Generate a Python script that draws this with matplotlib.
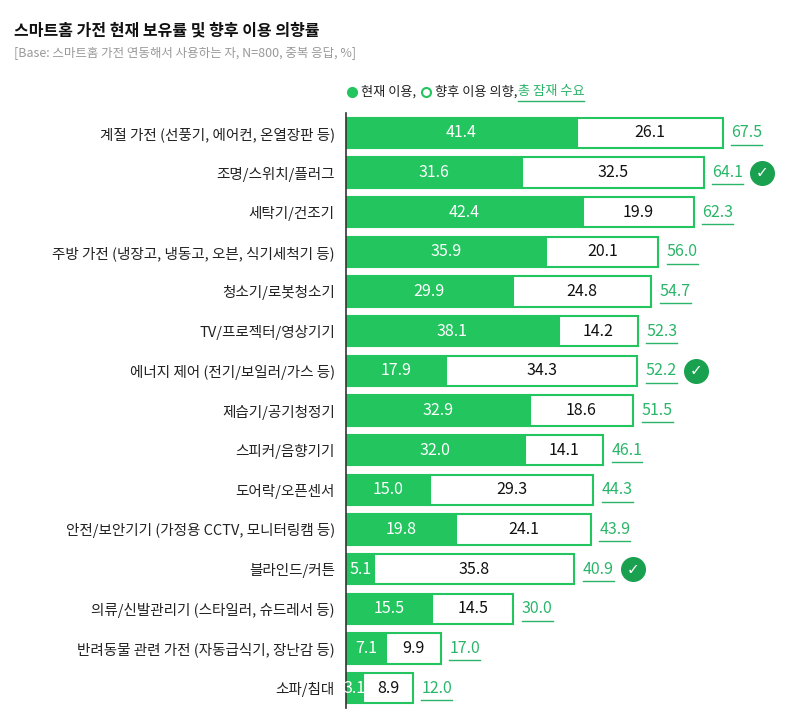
import matplotlib.pyplot as plt
from matplotlib.lines import Line2D

plt.rcParams['font.family'] = 'Noto Sans CJK KR'

categories = ['계절 가전 (선풍기, 에어컨, 온열장판 등)', '조명/스위치/플러그', '세탁기/건조기',
              '주방 가전 (냉장고, 냉동고, 오븐, 식기세척기 등)', '청소기/로봇청소기', 'TV/프로젝터/영상기기',
              '에너지 제어 (전기/보일러/가스 등)', '제습기/공기청정기', '스피커/음향기기', '도어락/오픈센서',
              '안전/보안기기 (가정용 CCTV, 모니터링캠 등)', '블라인드/커튼', '의류/신발관리기 (스타일러, 슈드레서 등)',
              '반려동물 관련 가전 (자동급식기, 장난감 등)', '소파/침대']
current = [41.4, 31.6, 42.4, 35.9, 29.9, 38.1, 17.9, 32.9, 32.0, 15.0, 19.8, 5.1, 15.5, 7.1, 3.1]
future = [26.1, 32.5, 19.9, 20.1, 24.8, 14.2, 34.3, 18.6, 14.1, 29.3, 24.1, 35.8, 14.5, 9.9, 8.9]
total = [67.5, 64.1, 62.3, 56.0, 54.7, 52.3, 52.2, 51.5, 46.1, 44.3, 43.9, 40.9, 30.0, 17.0, 12.0]
checked = ['조명/스위치/플러그', '에너지 제어 (전기/보일러/가스 등)', '블라인드/커튼']

GREEN = '#22c55e'
DARK = '#1aa150'
TXT_GREEN = '#2bb56a'

W, H = 798, 721
fig = plt.figure(figsize=(W / 100, H / 100), dpi=100)
ax = fig.add_axes([346 / W, (721 - 708) / H, (W - 346) / W, (708 - 113) / H])
ax.set_xlim(0, (W - 346) / 5.58)
ax.set_ylim(len(categories) - 0.5, -0.5)

y = list(range(len(categories)))
ax.barh(y, current, height=0.76, color=GREEN, edgecolor=GREEN, linewidth=1.5)
ax.barh(y, future, left=current, height=0.76, color='white', edgecolor=GREEN, linewidth=1.5)

fig.canvas.draw()
r = fig.canvas.get_renderer()
for i in y:
    ax.text(current[i] / 2, i, f'{current[i]:.1f}', color='white', ha='center', va='center', fontsize=11.5)
    ax.text(current[i] + future[i] / 2, i, f'{future[i]:.1f}', color='#111111', ha='center', va='center', fontsize=11.5)
    x0 = current[i] + future[i] + 1.5
    t = ax.text(x0, i, f'{total[i]:.1f}', color=TXT_GREEN, ha='left', va='center', fontsize=11.5)
    bb = t.get_window_extent(r).transformed(ax.transData.inverted())
    ax.plot([x0, bb.x1], [i + 0.3, i + 0.3], color=TXT_GREEN, lw=1)
    if categories[i] in checked:
        cx = bb.x1 + 3.5
        ax.plot(cx, i, 'o', ms=17, color=DARK)
        ax.text(cx, i, '✓', color='white', ha='center', va='center', fontsize=11,
                fontweight='bold', family='DejaVu Sans')

ax.set_yticks(y)
ax.set_yticklabels(categories, fontsize=10.5, color='#222222')
ax.tick_params(axis='y', length=0, pad=8)
ax.set_xticks([])
for s in ['top', 'right', 'bottom']:
    ax.spines[s].set_visible(False)
ax.spines['left'].set_color('#333333')
ax.spines['left'].set_linewidth(1.2)

fig.text(14 / W, 1 - 30 / H, '스마트홈 가전 현재 보유률 및 향후 이용 의향률', fontsize=11.5,
         fontweight='bold', va='center', color='#111111')
fig.text(14 / W, 1 - 54 / H, '[Base: 스마트홈 가전 연동해서 사용하는 자, N=800, 중복 응답, %]', fontsize=9,
         va='center', color='#999999')

ly = 1 - 92 / H
fig.add_artist(Line2D([352 / W], [ly], marker='o', ms=7, color=GREEN, transform=fig.transFigure))
fig.text(361 / W, ly, '현재 이용,', fontsize=9.5, va='center', color='#222222')
fig.add_artist(Line2D([426 / W], [ly], marker='o', ms=6.5, mfc='white', mec=GREEN, mew=1.5,
                      transform=fig.transFigure))
fig.text(435 / W, ly, '향후 이용 의향,', fontsize=9.5, va='center', color='#222222')
fig.text(518 / W, ly, '총 잠재 수요', fontsize=9.5, va='center', color=TXT_GREEN)
fig.add_artist(Line2D([518 / W, 584 / W], [ly - 9 / H, ly - 9 / H], color=TXT_GREEN, lw=1,
                      transform=fig.transFigure))

fig.savefig('out.png', dpi=100, facecolor='white')
